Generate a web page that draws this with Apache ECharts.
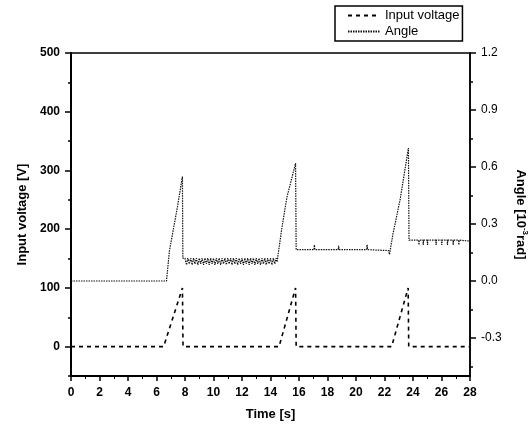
<!DOCTYPE html>
<html>
<head>
<meta charset="utf-8">
<script src="https://cdn.jsdelivr.net/npm/echarts@6/dist/echarts.min.js"></script>
<style>
html,body{margin:0;padding:0;background:#fff;}
#c{width:531px;height:426px;}
</style>
</head>
<body>
<div id="c"></div>
<script>
// ---- data ----
const xTicks = [0,2,4,6,8,10,12,14,16,18,20,22,24,26,28];
const leftTickLabels = [0,100,200,300,400,500];
const leftMinorTicks = [-50,50,150,250,350,450];
const rightTickLabels = [-0.3,0.0,0.3,0.6,0.9,1.2];
const rightMinorTicks = [-0.45,-0.15,0.15,0.45,0.75,1.05];

const voltageTime = [0, 6.5, 7.82, 7.86, 14.6, 15.76, 15.8, 22.5, 23.66, 23.7, 28];
const voltageValue = [0, 0, 100, 0, 0, 100, 0, 0, 100, 0, 0];

const angleTime = [
  0, 6.7, 6.91, 7.47, 7.82, 7.85,
  8.0, 8.1, 8.2, 8.3, 8.4, 8.5, 8.6, 8.7, 8.8, 8.9,
  9.0, 9.1, 9.2, 9.3, 9.4, 9.5, 9.6, 9.7, 9.8, 9.9,
  10.0, 10.1, 10.2, 10.3, 10.4, 10.5, 10.6, 10.7, 10.8, 10.9,
  11.0, 11.1, 11.2, 11.3, 11.4, 11.5, 11.6, 11.7, 11.8, 11.9,
  12.0, 12.1, 12.2, 12.3, 12.4, 12.5, 12.6, 12.7, 12.8, 12.9,
  13.0, 13.1, 13.2, 13.3, 13.4, 13.5, 13.6, 13.7, 13.8, 13.9,
  14.0, 14.1, 14.2, 14.3, 14.4,
  14.46, 14.8, 15.15, 15.76, 15.8,
  17.05, 17.08, 17.11, 18.75, 18.78, 18.81, 20.75, 20.78, 20.81,
  22.3, 22.35, 22.6, 23.1, 23.68, 23.72,
  24.4, 24.42, 24.44, 24.7, 24.72, 24.74, 25.0, 25.02, 25.04,
  25.6, 25.62, 25.64, 26.0, 26.02, 26.04, 26.4, 26.42, 26.44,
  26.8, 26.82, 26.84, 27.2, 27.22, 27.24, 28
];
const angleValue = [
  0, 0, 0.16, 0.39, 0.55, 0.12,
  0.12, 0.085, 0.12, 0.09, 0.12, 0.085, 0.12, 0.09, 0.12, 0.085,
  0.12, 0.09, 0.12, 0.085, 0.12, 0.09, 0.12, 0.085, 0.12, 0.09,
  0.12, 0.085, 0.12, 0.09, 0.12, 0.085, 0.12, 0.09, 0.12, 0.085,
  0.12, 0.09, 0.12, 0.085, 0.12, 0.09, 0.12, 0.085, 0.12, 0.09,
  0.12, 0.085, 0.12, 0.09, 0.12, 0.085, 0.12, 0.09, 0.12, 0.085,
  0.12, 0.09, 0.12, 0.085, 0.12, 0.09, 0.12, 0.085, 0.12, 0.09,
  0.12, 0.085, 0.12, 0.09, 0.12,
  0.10, 0.28, 0.44, 0.62, 0.165,
  0.165, 0.19, 0.165, 0.165, 0.185, 0.165, 0.165, 0.19, 0.165,
  0.16, 0.14, 0.25, 0.43, 0.70, 0.215,
  0.215, 0.19, 0.215, 0.215, 0.19, 0.215, 0.215, 0.19, 0.215,
  0.215, 0.19, 0.215, 0.215, 0.19, 0.215, 0.215, 0.19, 0.215,
  0.215, 0.19, 0.215, 0.215, 0.19, 0.215, 0.21
];

const voltageData = voltageTime.map((t, i) => [t, voltageValue[i]]);
const angleData = angleTime.map((t, i) => [t, angleValue[i]]);

const FONT = 'Liberation Sans';
const chart = echarts.init(document.getElementById('c'), null, {renderer: 'canvas'});
const labelBold = {color: '#000', fontFamily: FONT, fontSize: 12, fontWeight: 'bold'};

chart.setOption({
  animation: false,
  backgroundColor: '#fff',
  grid: {left: 71, right: 61, top: 53, bottom: 50, containLabel: false, outerBoundsMode: 'none',
    show: true, borderColor: '#000', borderWidth: 1.5, backgroundColor: 'transparent'},
  legend: {
    orient: 'vertical', left: 335, top: 6,
    padding: [3, 3, 3, 12], itemGap: 3, itemWidth: 32, itemHeight: 12,
    borderColor: '#000', borderWidth: 1.5, backgroundColor: '#fff',
    itemStyle: {opacity: 0},
    textStyle: {color: '#000', fontFamily: FONT, fontSize: 13},
    data: ['Input voltage', 'Angle']
  },
  xAxis: {
    type: 'value', min: 0, max: 28, interval: 2,
    name: 'Time [s]', nameLocation: 'middle', nameGap: 32,
    nameTextStyle: {color: '#000', fontFamily: FONT, fontSize: 13, fontWeight: 'bold'},
    axisLine: {show: true, onZero: false, lineStyle: {color: '#000', width: 2}},
    axisTick: {show: true, inside: false, length: 5, lineStyle: {color: '#000', width: 1.5}},
    minorTick: {show: true, splitNumber: 2, length: 3, lineStyle: {color: '#000', width: 1}},
    axisLabel: Object.assign({margin: 11, customValues: xTicks}, labelBold),
    splitLine: {show: false}
  },
  yAxis: [
    {
      type: 'value', min: -50, max: 500, position: 'left',
      name: 'Input voltage [V]', nameLocation: 'middle', nameGap: 35,
      nameTextStyle: {color: '#000', fontFamily: FONT, fontSize: 13, fontWeight: 'bold'},
      axisLine: {show: true, onZero: false, lineStyle: {color: '#000', width: 2}},
      axisTick: {show: true, length: 6, customValues: leftTickLabels, lineStyle: {color: '#000', width: 1.5}},
      axisLabel: Object.assign({margin: 11, customValues: leftTickLabels}, labelBold),
      splitLine: {show: false}
    },
    {
      type: 'value', min: -0.5, max: 1.2, position: 'right',
      name: 'Angle [10{sup|-3}rad]', nameLocation: 'middle', nameGap: 43, nameRotate: -90,
      nameTextStyle: {color: '#000', fontFamily: FONT, fontSize: 13, fontWeight: 'bold',
        rich: {sup: {fontSize: 8, fontFamily: FONT, fontWeight: 'bold', color: '#000', verticalAlign: 'top', padding: [0, 0, 8, 0]}}},
      axisLine: {show: true, onZero: false, lineStyle: {color: '#000', width: 1.5}},
      axisTick: {show: true, length: 6, customValues: rightTickLabels, lineStyle: {color: '#000', width: 1.5}},
      axisLabel: {margin: 11, customValues: rightTickLabels, color: '#000', fontFamily: FONT, fontSize: 12,
        formatter: v => v.toFixed(1)},
      splitLine: {show: false}
    },
    {
      type: 'value', min: -50, max: 500, position: 'left',
      axisLine: {show: false},
      axisTick: {show: true, length: 3, customValues: leftMinorTicks, lineStyle: {color: '#000', width: 1.5}},
      axisLabel: {show: false},
      splitLine: {show: false}
    },
    {
      type: 'value', min: -0.5, max: 1.2, position: 'right',
      axisLine: {show: false},
      axisTick: {show: true, length: 3, customValues: rightMinorTicks, lineStyle: {color: '#000', width: 1.5}},
      axisLabel: {show: false},
      splitLine: {show: false}
    }
  ],
  series: [
    {
      name: 'Input voltage', type: 'line', yAxisIndex: 0, data: voltageData,
      symbol: 'none', showSymbol: false,
      lineStyle: {color: '#000', width: 1.6, type: [4, 4]},
      itemStyle: {color: '#000'}
    },
    {
      name: 'Angle', type: 'line', yAxisIndex: 1, data: angleData,
      symbol: 'none', showSymbol: false,
      lineStyle: {color: '#111', width: 1.2, type: [1.5, 1]},
      itemStyle: {color: '#111'}
    }
  ]
});
</script>
</body>
</html>
